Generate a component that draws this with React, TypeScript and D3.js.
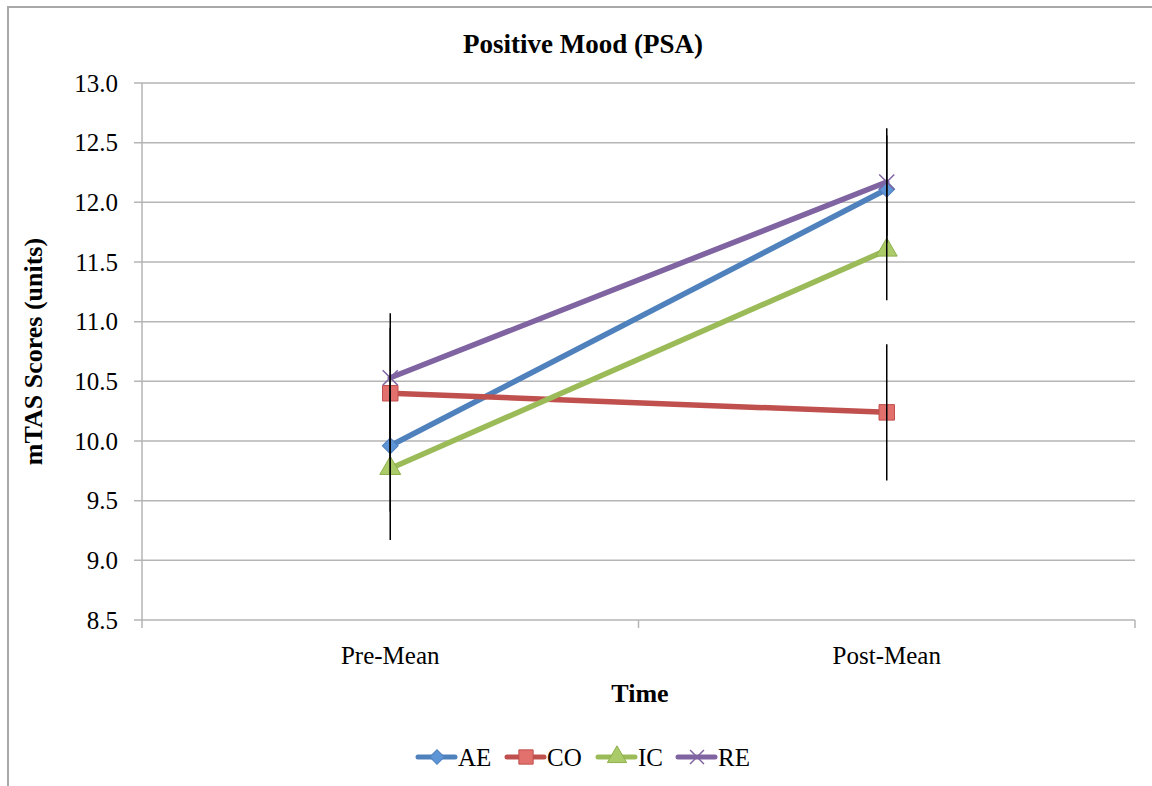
import React from "react";
import * as d3 from "d3";

const categories = ["Pre-Mean", "Post-Mean"];
const seriesNames = ["AE", "CO", "IC", "RE"];
const aeValues = [9.96, 12.11];
const aeErrors = [0.55, 0.45];
const coValues = [10.4, 10.24];
const coErrors = [0.55, 0.57];
const icValues = [9.77, 11.6];
const icErrors = [0.6, 0.42];
const reValues = [10.53, 12.17];
const reErrors = [0.54, 0.45];
const yTicks = [8.5, 9.0, 9.5, 10.0, 10.5, 11.0, 11.5, 12.0, 12.5, 13.0];

const W = 1152;
const H = 786;
const left = 142;
const right = 1135;
const top = 83;
const bottom = 620;

const colors: Record<string, string> = { AE: "#4F81BD", CO: "#C0504D", IC: "#9BBB59", RE: "#8064A2" };
const fills: Record<string, string> = { AE: "#5E95D6", CO: "#E2706C", IC: "#AACB68", RE: "#8064A2" };
const FONT = "'Liberation Serif', 'Times New Roman', serif";
const GRID = "#b5b5b5";

const series = [
  { name: seriesNames[0], values: aeValues, errors: aeErrors },
  { name: seriesNames[1], values: coValues, errors: coErrors },
  { name: seriesNames[2], values: icValues, errors: icErrors },
  { name: seriesNames[3], values: reValues, errors: reErrors },
];

function Marker({ name, cx, cy, scale = 1 }: { name: string; cx: number; cy: number; scale?: number }) {
  const c = colors[name];
  const f = fills[name];
  if (name === "AE") {
    const p = d3.symbol().type(d3.symbolSquare).size(125 * scale)();
    return <path d={p || ""} transform={`translate(${cx},${cy}) rotate(45)`} fill={f} stroke={c} strokeWidth={1} />;
  }
  if (name === "CO") {
    const p = d3.symbol().type(d3.symbolSquare).size(240 * scale)();
    return <path d={p || ""} transform={`translate(${cx},${cy})`} fill={f} stroke={c} strokeWidth={1} />;
  }
  if (name === "IC") {
    const p = d3.symbol().type(d3.symbolTriangle).size(190 * scale)();
    return <path d={p || ""} transform={`translate(${cx},${cy})`} fill={f} stroke="#8FB04E" strokeWidth={1} />;
  }
  const p = d3.symbol().type(d3.symbolX).size(150 * scale)();
  return <path d={p || ""} transform={`translate(${cx},${cy})`} fill="none" stroke={c} strokeWidth={1.5} />;
}

export default function App() {
  const x = d3.scaleBand<string>().domain(categories).range([left, right]);
  const y = d3.scaleLinear().domain([8.5, 13]).range([bottom, top]);
  const cx = (c: string) => (x(c) as number) + x.bandwidth() / 2;
  const line = d3
    .line<number>()
    .x((_, i) => cx(categories[i]))
    .y((v) => y(v));

  const legendItems = [
    { name: "AE", lx: 418 },
    { name: "CO", lx: 507 },
    { name: "IC", lx: 598 },
    { name: "RE", lx: 678 },
  ];

  return (
    <div style={{ position: "fixed", left: 0, top: 0 }}>
      <svg width={W} height={H} style={{ display: "block", background: "#fff" }}>
        <rect x={8} y={7} width={W + 20} height={H + 20} fill="#fff" stroke="#a8a8a8" strokeWidth={2} />
        <text x={583} y={53} textAnchor="middle" fontFamily={FONT} fontWeight="bold" fontSize={27}>
          Positive Mood (PSA)
        </text>
        {yTicks.map((t) => (
          <line key={t} x1={left - 8} x2={right} y1={y(t)} y2={y(t)} stroke={GRID} strokeWidth={1.5} />
        ))}
        <line x1={left} x2={left} y1={top} y2={bottom} stroke={GRID} strokeWidth={1.5} />
        {yTicks.map((t) => (
          <text key={"l" + t} x={118} y={y(t)} dy="0.35em" textAnchor="end" fontFamily={FONT} fontSize={25}>
            {t.toFixed(1)}
          </text>
        ))}
        {[left, ...categories.map((c) => (x(c) as number) + x.bandwidth())].map((px, i) => (
          <line key={"xt" + i} x1={px} x2={px} y1={bottom} y2={bottom + 8} stroke={GRID} strokeWidth={1.5} />
        ))}
        {categories.map((c) => (
          <text key={c} x={cx(c)} y={664} textAnchor="middle" fontFamily={FONT} fontSize={25}>
            {c}
          </text>
        ))}
        <text x={640} y={702} textAnchor="middle" fontFamily={FONT} fontWeight="bold" fontSize={26}>
          Time
        </text>
        <text
          transform={`translate(42,${(top + bottom) / 2}) rotate(-90)`}
          textAnchor="middle"
          fontFamily={FONT}
          fontWeight="bold"
          fontSize={26}
        >
          mTAS Scores (units)
        </text>
        {series.map((s) => (
          <path key={s.name} d={line(s.values) || ""} fill="none" stroke={colors[s.name]} strokeWidth={5.5} strokeLinecap="round" />
        ))}
        {series.map((s) =>
          s.values.map((v, i) => <Marker key={s.name + i} name={s.name} cx={cx(categories[i])} cy={y(v)} />)
        )}
        {series.map((s) =>
          s.values.map((v, i) => (
            <line
              key={"e" + s.name + i}
              x1={cx(categories[i])}
              x2={cx(categories[i])}
              y1={y(v + s.errors[i])}
              y2={y(v - s.errors[i])}
              stroke="#000"
              strokeWidth={1.5}
            />
          ))
        )}
        {legendItems.map((it) => (
          <g key={"lg" + it.name}>
            <line x1={it.lx} x2={it.lx + 37} y1={757} y2={757} stroke={colors[it.name]} strokeWidth={5} strokeLinecap="round" />
            <Marker name={it.name} cx={it.lx + 19} cy={757} scale={0.85} />
            <text x={it.lx + 40} y={766} fontFamily={FONT} fontSize={25}>
              {it.name}
            </text>
          </g>
        ))}
      </svg>
    </div>
  );
}
